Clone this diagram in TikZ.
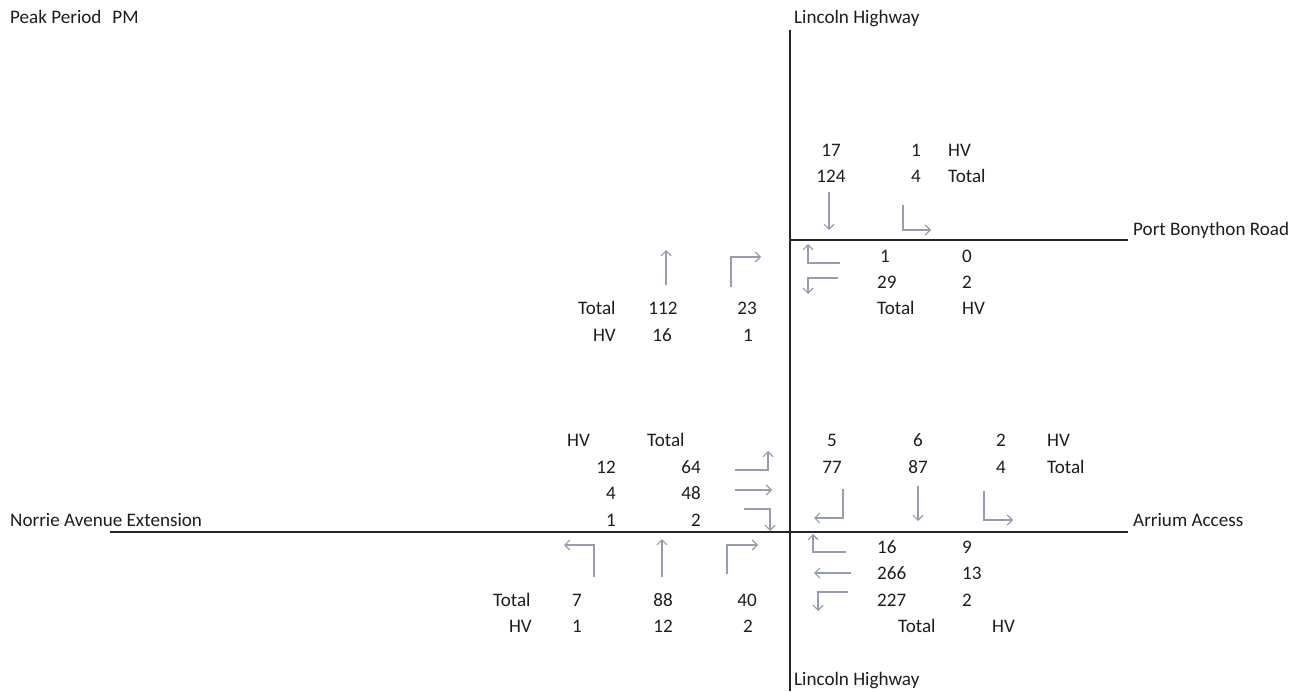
\documentclass[tikz,border=0pt]{standalone}
\usepackage{fontspec}
\setmainfont{Carlito}
\usetikzlibrary{arrows.meta}
\definecolor{txt}{HTML}{1E1E1E}
\definecolor{arr}{HTML}{959DB0}
\begin{document}
\begin{tikzpicture}[x=1pt,y=-1pt,
  lbl/.style={inner sep=0pt,text=txt,font=\fontsize{19.1}{21}\selectfont},
  W/.style={lbl,anchor=base west},
  E/.style={lbl,anchor=base east},
  C/.style={lbl,anchor=base},
  road/.style={line width=1.3pt,draw=black!85},
  mv/.style={line width=1.1pt,draw=arr,-{Straight Barb[length=5pt,width=10pt,line width=1.1pt]}}]
\useasboundingbox[fill=white] (0,0) rectangle (1290,691);

% roads
\draw[road] (790,30) -- (790,691);
\draw[road] (790,240) -- (1128,240);
\draw[road] (110,532) -- (1128,532);

% titles and road names
\node[W] (title) at (10,23) {Peak Period\hspace{11pt}PM};
\node[W] (lhn) at (794,23) {Lincoln Highway};
\node[W] (pbr) at (1133,235) {Port Bonython Road};
\node[W] (nae) at (10,526) {Norrie Avenue Extension};
\node[W] (aa) at (1133,526) {Arrium Access};
\node[W] (lhs) at (794,685) {Lincoln Highway};

% ---- upper junction: southbound approach
\node[C] (a1) at (831,156) {17};
\node[C] (a2) at (831,182) {124};
\node[E] (a3) at (921,156) {1};
\node[E] (a4) at (921,182) {4};
\node[W] (a5) at (948,156) {HV};
\node[W] (a6) at (948,182) {Total};
\draw[mv] (829,192) -- (829,230);
\draw[mv] (903,205) -- (903,230) -- (931,230);

% ---- upper junction: westbound approach
\node[W] (b1) at (880,262) {1};
\node[W] (b2) at (962,262) {0};
\node[W] (b3) at (877,288) {29};
\node[W] (b4) at (962,288) {2};
\node[W] (b5) at (877,314) {Total};
\node[W] (b6) at (962,314) {HV};
\draw[mv] (840,263) -- (808,263) -- (808,244);
\draw[mv] (838,278) -- (808,278) -- (808,294);

% ---- upper junction: northbound approach
\node[W] (c1) at (578,314) {Total};
\node[C] (c2) at (663,314) {112};
\node[C] (c3) at (747,314) {23};
\node[E] (c4) at (616,341) {HV};
\node[C] (c5) at (662,341) {16};
\node[C] (c6) at (748,341) {1};
\draw[mv] (666,285) -- (666,250);
\draw[mv] (731,287) -- (731,257) -- (761,257);

% ---- lower junction: eastbound approach
\node[W] (d1) at (567,446) {HV};
\node[W] (d2) at (647,446) {Total};
\node[E] (d3) at (616,473) {12};
\node[E] (d4) at (701,473) {64};
\node[E] (d5) at (616,499) {4};
\node[E] (d6) at (701,499) {48};
\node[E] (d7) at (616,526) {1};
\node[E] (d8) at (701,526) {2};
\draw[mv] (735,470) -- (768,470) -- (768,451);
\draw[mv] (735,490) -- (772,490);
\draw[mv] (744,509) -- (770,509) -- (770,531);

% ---- lower junction: southbound approach
\node[C] (e1) at (832,446) {5};
\node[C] (e2) at (832,473) {77};
\node[C] (e3) at (918,446) {6};
\node[C] (e4) at (918,473) {87};
\node[E] (e5) at (1006,446) {2};
\node[E] (e6) at (1006,473) {4};
\node[W] (e7) at (1047,446) {HV};
\node[W] (e8) at (1047,473) {Total};
\draw[mv] (843,489) -- (843,518) -- (814,518);
\draw[mv] (918,486) -- (918,521);
\draw[mv] (984,491) -- (984,520) -- (1013,520);

% ---- lower junction: westbound approach
\node[W] (f1) at (877,553) {16};
\node[W] (f2) at (962,553) {9};
\node[W] (f3) at (877,579) {266};
\node[W] (f4) at (962,579) {13};
\node[W] (f5) at (877,606) {227};
\node[W] (f6) at (962,606) {2};
\node[W] (f7) at (898,632) {Total};
\node[W] (f8) at (992,632) {HV};
\draw[mv] (846,552) -- (813,552) -- (813,534);
\draw[mv] (851,573) -- (814,573);
\draw[mv] (848,592) -- (818,592) -- (818,611);

% ---- lower junction: northbound approach
\node[W] (g1) at (493,606) {Total};
\node[C] (g2) at (577,606) {7};
\node[C] (g3) at (663,606) {88};
\node[C] (g4) at (747,606) {40};
\node[E] (g5) at (532,632) {HV};
\node[C] (g6) at (577,632) {1};
\node[C] (g7) at (663,632) {12};
\node[C] (g8) at (748,632) {2};
\draw[mv] (594,577) -- (594,545) -- (564,545);
\draw[mv] (662,577) -- (662,539);
\draw[mv] (727,574) -- (727,545) -- (758,545);
\end{tikzpicture}
\end{document}
